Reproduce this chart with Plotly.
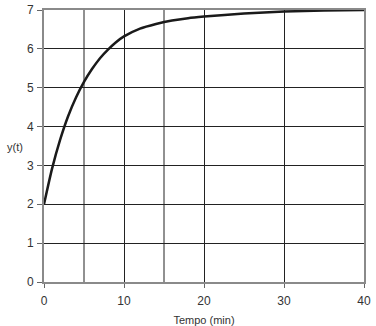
import plotly.graph_objects as go

# Response y(t) over time, read at sample instants (min)
tempo = [0, 1, 2, 3, 4, 5, 6, 7, 8, 9, 10, 12, 14, 16, 18, 20, 25, 30, 35, 40]
y_t = [2.0, 2.91, 3.65, 4.26, 4.75, 5.15, 5.48, 5.76, 5.98, 6.17, 6.32,
       6.52, 6.64, 6.73, 6.79, 6.83, 6.91, 6.96, 6.985, 7.0]

x_ticks = [0, 10, 20, 30, 40]
y_ticks = [0, 1, 2, 3, 4, 5, 6, 7]
minor_x = [5, 15]

GRID = "#222222"
FRAME = "#8a8a8a"
TEXT = "#333333"

fig = go.Figure()
fig.add_trace(go.Scatter(
    x=tempo, y=y_t, mode="lines",
    line=dict(color="#1a1a1a", width=2.5, shape="spline", smoothing=0.6),
    showlegend=False, hoverinfo="skip",
))

# vertical grid every 5 min (labels only every 10)
for xv in minor_x:
    fig.add_shape(type="line", x0=xv, x1=xv, y0=0, y1=7, xref="x", yref="y",
                  line=dict(color=GRID, width=1), layer="below")

fig.update_layout(
    width=376, height=326,
    margin=dict(l=44, r=12, t=10, b=44),
    paper_bgcolor="white", plot_bgcolor="white",
    font=dict(family="Liberation Sans, Arial, sans-serif", size=12, color=TEXT),
    xaxis=dict(
        range=[0, 40], tickvals=x_ticks, ticks="outside", ticklen=4,
        tickcolor="#666666", ticklabelstandoff=3, automargin=False,
        showgrid=True, gridcolor=GRID, gridwidth=1,
        showline=True, linecolor=FRAME, linewidth=2, mirror=True,
        zeroline=False,
        title=dict(text="Tempo (min)", font=dict(size=11, color=TEXT), standoff=9),
    ),
    yaxis=dict(
        range=[0, 7], tickvals=y_ticks, ticks="outside", ticklen=5,
        tickcolor="#666666", ticklabelstandoff=1, automargin=False,
        showgrid=True, gridcolor=GRID, gridwidth=1,
        showline=True, linecolor=FRAME, linewidth=2, mirror=True,
        zeroline=False,
    ),
    annotations=[dict(
        text="y(t)", xref="paper", yref="paper",
        x=-29 / 320, y=(282 - 147) / 272,
        xanchor="center", yanchor="middle", showarrow=False,
        font=dict(size=11, color=TEXT),
    )],
)

fig.write_html("out.html")
